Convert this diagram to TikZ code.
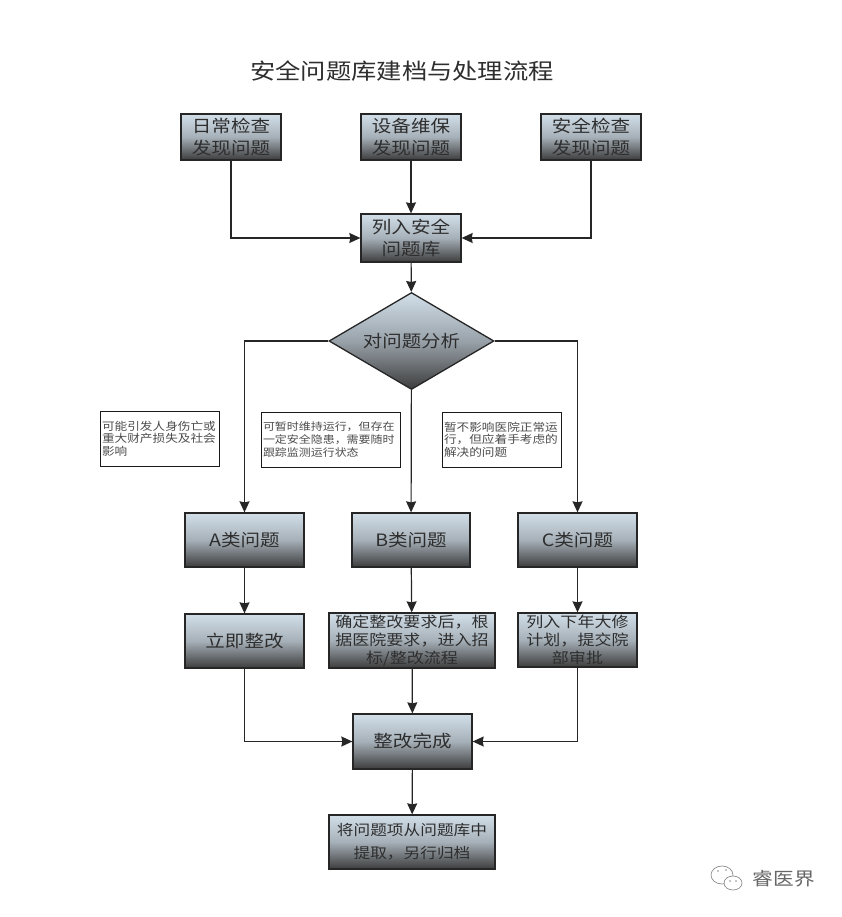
\documentclass[tikz,border=0pt]{standalone}
\usepackage{fontspec}
\setmainfont[FakeStretch=1.15]{Noto Sans CJK SC}
\usepackage{xcolor}
\usetikzlibrary{shapes.geometric}
\usetikzlibrary{arrows.meta}
\definecolor{boxtop}{HTML}{D2DFE9}
\definecolor{boxmid}{HTML}{A6B0B8}
\definecolor{boxlow}{HTML}{3C3C3C}
\definecolor{texttone}{HTML}{2E2E2E}
\tikzset{
    stepbox/.style={draw=black!85, line width=1.3pt, rectangle, top color=boxtop, bottom color=boxlow, middle color=boxmid, text=texttone, inner sep=0pt, align=center, font=\fontsize{17}{22}\selectfont},
    smallstep/.style={font=\fontsize{14.8}{18.3}\selectfont},
    notebox/.style={draw=black!90, line width=1pt, rectangle, fill=white, inner sep=0pt, minimum width=#1, minimum height=55pt, text width=#1-4pt, align=left, text=black!70, font=\fontsize{11}{12.6}\selectfont},
    flow/.style={draw=black!85, line width=1.2pt, ->}
}
\begin{document}
\begin{tikzpicture}[x=1pt, y=-1pt, >={Stealth[length=11pt,width=10pt,inset=1pt]}] % Arrow tip style
    \useasboundingbox[fill=white] (0,0) rectangle (842,917);

    \node[font=\fontsize{22}{26}\selectfont, text=texttone] (title) at (402,71) {安全问题库建档与处理流程};

    % Three sources of problems
    \node[stepbox, minimum width=100pt, minimum height=46pt] (daily) at (231,137) {日常检查\\发现问题};
    \node[stepbox, minimum width=100pt, minimum height=46pt] (maint) at (411,137) {设备维保\\发现问题};
    \node[stepbox, minimum width=100pt, minimum height=46pt] (check) at (591,137) {安全检查\\发现问题};
    \node[stepbox, minimum width=100pt, minimum height=48pt] (lib) at (411,238) {列入安全\\问题库};

    % Analysis
    \node[draw=black!85, line width=1.3pt, diamond, aspect=1.7, top color=boxtop, bottom color=boxlow, middle color=boxmid!92!black, text=texttone, inner sep=0pt, minimum width=165pt, minimum height=97pt, font=\fontsize{16.9}{20}\selectfont] (ana) at (411.5,341) {对问题分析};

    \node[notebox=119pt] (noteA) at (159.5,438.5) {可能引发人身伤亡或\\重大财产损失及社会\\影响};
    \node[notebox=139pt, font=\fontsize{10.4}{12.6}\selectfont] (noteB) at (330.5,439.5) {可暂时维持运行，但存在\\一定安全隐患，需要随时\\跟踪监测运行状态};
    \node[notebox=119pt] (noteC) at (501.5,439.5) {暂不影响医院正常运\\行，但应着手考虑的\\解决的问题};

    % Classes
    \node[stepbox, minimum width=119pt, minimum height=54pt] (classA) at (244.5,540) {A类问题};
    \node[stepbox, minimum width=118pt, minimum height=54pt] (classB) at (411,540) {B类问题};
    \node[stepbox, minimum width=119pt, minimum height=54pt] (classC) at (577.5,540) {C类问题};

    % Handling
    \node[stepbox, minimum width=119pt, minimum height=54pt] (fixA) at (244.5,641) {立即整改};
    \node[stepbox, smallstep, minimum width=166pt, minimum height=55pt] (fixB) at (412,640.5) {确定整改要求后，根\\据医院要求，进入招\\标/整改流程};
    \node[stepbox, smallstep, minimum width=119pt, minimum height=54pt] (fixC) at (577.5,640) {列入下年大修\\计划，提交院\\部审批};
    \node[stepbox, minimum width=119pt, minimum height=55pt] (done) at (412.5,741.5) {整改完成};
    \node[stepbox, font=\fontsize{14.5}{23}\selectfont, minimum width=166pt, minimum height=54pt] (archive) at (412,842) {将问题项从问题库中\\提取，另行归档};

    % Connectors
    \draw[flow] (daily.south) |- (lib.west);
    \draw[flow] (maint) -- (lib);
    \draw[flow] (check.south) |- (lib.east);
    \draw[flow] (lib) -- (ana);
    \draw[flow] (ana.west) -| (classA.north);
    \draw[flow] (ana) -- (classB);
    \draw[flow] (ana.east) -| (classC.north);
    \draw[flow] (classA) -- (fixA);
    \draw[flow] (classB) -- (fixB);
    \draw[flow] (classC) -- (fixC);
    \draw[flow] (fixA.south) |- (done.west);
    \draw[flow] (fixB) -- (done);
    \draw[flow] (fixC.south) |- (done.east);
    \draw[flow] (done) -- (archive);

    % Watermark
    \draw[black!45, line width=.7pt, fill=white] (722,875) ellipse (11pt and 9pt);
    \draw[black!45, line width=.7pt, fill=white] (733,883) ellipse (9pt and 7pt);
    \fill[black!45] (718,871) circle (.9pt) (726,870) circle (.9pt) (730,881) circle (.8pt) (736,881) circle (.8pt);
    \node[text=black!60, font=\fontsize{18}{20}\selectfont] (mark) at (784,879) {睿医界};
\end{tikzpicture}
\end{document}
